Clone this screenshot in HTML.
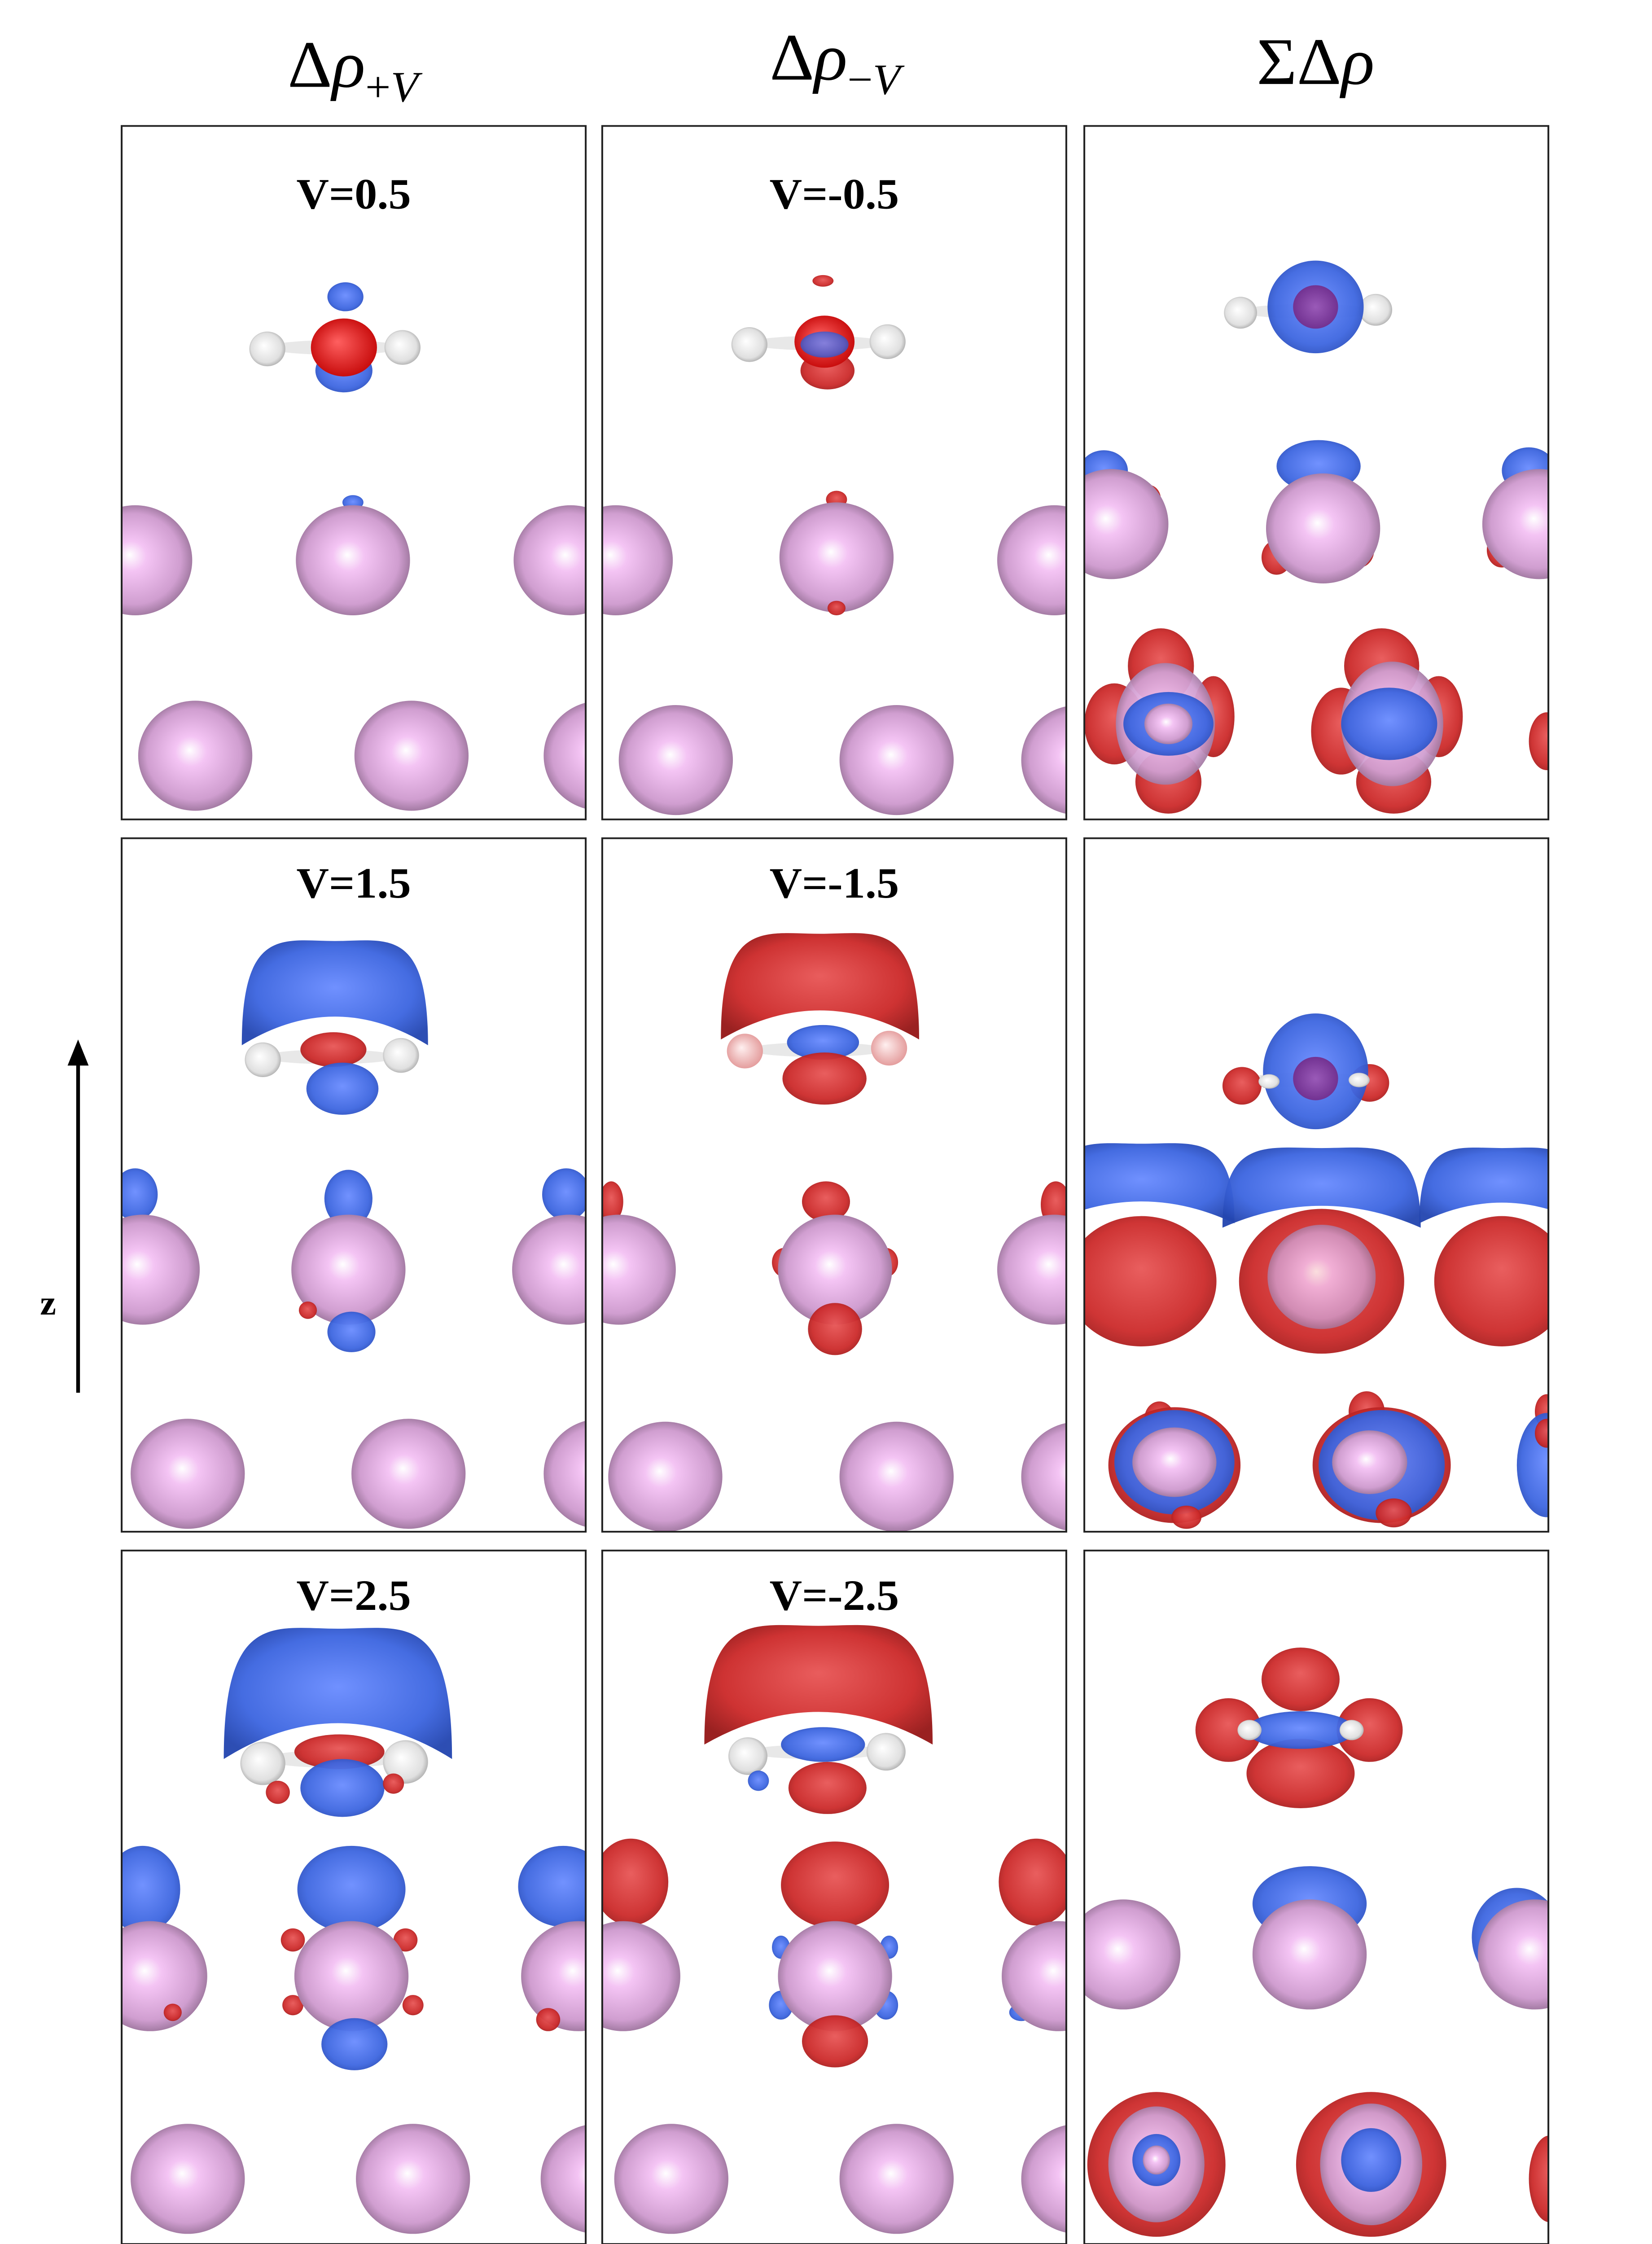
<!DOCTYPE html>
<html><head><meta charset="utf-8"><style>
html,body{margin:0;padding:0;background:#fff;width:100vw;height:100vh;overflow:hidden;}
svg{display:block;position:absolute;left:0;top:0;width:100vw;height:100vh;}
</style></head><body>
<svg id="fig" xmlns="http://www.w3.org/2000/svg" viewBox="0 0 1100 1550" preserveAspectRatio="none">
<defs>
<radialGradient id="gPink" cx="0.5" cy="0.5" r="0.55" fx="0.45" fy="0.45"><stop offset="0" stop-color="#ffffff"/><stop offset="0.25" stop-color="#f4c4f4"/><stop offset="0.75" stop-color="#d09ed0"/><stop offset="1" stop-color="#8e6a8e"/></radialGradient>
<radialGradient id="gBlue" cx="0.5" cy="0.5" r="0.6" fx="0.5" fy="0.45"><stop offset="0" stop-color="#6a8cff"/><stop offset="0.7" stop-color="#3d66e0"/><stop offset="1" stop-color="#2446b0"/></radialGradient>
<radialGradient id="gRed" cx="0.5" cy="0.5" r="0.6" fx="0.5" fy="0.4"><stop offset="0" stop-color="#e85656"/><stop offset="0.7" stop-color="#cc2a2a"/><stop offset="1" stop-color="#961818"/></radialGradient>
<radialGradient id="gO" cx="0.5" cy="0.5" r="0.6" fx="0.4" fy="0.4"><stop offset="0" stop-color="#ff6060"/><stop offset="1" stop-color="#c00000"/></radialGradient>
<radialGradient id="gH" cx="0.5" cy="0.5" r="0.6" fx="0.4" fy="0.4"><stop offset="0" stop-color="#ffffff"/><stop offset="0.7" stop-color="#e0e0e0"/><stop offset="1" stop-color="#909090"/></radialGradient>
<radialGradient id="gHr" cx="0.5" cy="0.5" r="0.6" fx="0.4" fy="0.4"><stop offset="0" stop-color="#fff0f0"/><stop offset="1" stop-color="#e09090"/></radialGradient>
<radialGradient id="gPurple" cx="0.5" cy="0.5" r="0.6"><stop offset="0" stop-color="#9a5ab8"/><stop offset="1" stop-color="#6a2a8a"/></radialGradient>
</defs>
<g font-family="'Liberation Serif', serif" fill="#000">
<text x="235" y="60" font-size="46" text-anchor="middle">Δ<tspan font-style="italic">ρ</tspan><tspan font-size="30" dy="10">+<tspan font-style="italic">V</tspan></tspan></text>
<text x="556" y="55" font-size="46" text-anchor="middle">Δ<tspan font-style="italic">ρ</tspan><tspan font-size="30" dy="10">−<tspan font-style="italic">V</tspan></tspan></text>
<text x="876" y="58" font-size="46" text-anchor="middle">ΣΔ<tspan font-style="italic">ρ</tspan></text>
<line x1="52" y1="962" x2="52" y2="732" stroke="#000" stroke-width="2.5"/>
<polygon points="52,718 45,736 59,736" fill="#000"/>
<text x="32" y="908" font-size="24" font-weight="bold" text-anchor="middle">z</text>
</g>
<g id="panels"></g>
</svg>
<script>
const NS='http://www.w3.org/2000/svg';
const colX=[81,401,722], rowY=[87,579,1071], PW=309, PH=479;
const labelDy=[57,41,41];
const labels=[['V=0.5','V=-0.5',''],['V=1.5','V=-1.5',''],['V=2.5','V=-2.5','']];
// ellipses: [type, cx, cy, rx, ry, opacity]; domes: ['DB'|'DR', cx, top, halfwidth, bottom]
const S=[
[[['B',230,205,12,10],['B',229,256,19,15],['W',223,240,45,5],['O',229,240,22,20],['H',178,241,12,12],['H',268,240,12,12],['B',235,347,7,5],
['P',90,387,38,38],['P',235,387,38,38],['P',380,387,38,38],['P',130,522,38,38],['P',274,522,38,38],['P',400,522,38,38]],
[['R',548,194,7,4],['R',551,256,18,13],['W',545,237,46,5],['O',549,236,20,18],['B',549,238,16,9,0.8],['H',499,238,12,12],['H',591,236,12,12],['R',557,345,7,6],
['P',410,387,38,38],['P',557,385,38,38],['P',702,387,38,38],['R',557,420,6,5],['P',450,525,38,38],['P',597,525,38,38],['P',718,525,38,38]],
[['W',871,215,45,5],['H',826,216,11,11],['H',916,214,11,11],['B',876,212,32,32],['U',876,212,15,15],
['B',735,325,16,14],['B',878,322,28,18],['B',1018,325,18,16],['R',765,345,8,10],['R',850,385,10,12],['R',905,380,10,12],['R',1000,380,10,12],
['P',740,362,38,38],['P',881,365,38,38],['P',1025,362,38,38],
['R',773,460,22,26],['R',778,540,22,22],['R',742,500,20,28],['R',808,495,14,28],['P',776,500,33,42,0.95],['B',778,500,30,22],['P',778,500,16,14],
['R',920,460,25,26],['R',928,540,25,22],['R',893,505,20,30],['R',958,495,16,28],['P',927,500,34,43,0.95],['B',925,500,32,25],
['R',1030,512,12,20]]],
[[['DB',223,650,62,722],['W',220,730,45,5],['R',222,725,22,12],['H',175,732,12,12],['H',267,729,12,12],['B',228,752,24,18],
['B',90,825,15,18],['B',232,828,16,20],['B',377,825,16,18],['P',95,877,38,38],['P',232,877,38,38],['P',379,877,38,38],['R',205,905,6,6],['B',234,920,16,14],
['P',125,1018,38,38],['P',272,1018,38,38],['P',400,1018,38,38]],
[['DR',546,645,66,718],['W',544,725,46,5],['B',548,720,24,12],['h',496,726,12,12],['h',592,724,12,12],['R',549,745,28,18],
['R',407,830,8,14],['R',550,830,16,14],['R',703,832,10,16],['R',522,872,8,10],['R',590,872,8,10],
['P',412,877,38,38],['P',556,877,38,38],['P',702,877,38,38],['R',556,918,18,18],
['P',443,1020,38,38],['P',597,1020,38,38],['P',718,1020,38,38]],
[['W',870,746,42,5],['R',827,750,13,13],['R',912,748,13,13],['B',876,740,35,40],['U',876,745,15,15],['H',845,747,7,5],['H',905,746,7,5],
['R',760,885,50,45],['R',880,885,55,50],['R',1000,885,45,45],['P',880,882,36,36,0.8],
['DB',760,790,62,845],['DB',880,793,66,848],['DB',1000,793,55,845],
['R',772,980,10,12],['R',910,975,12,14],['R',1030,975,8,12],
['R',782,1012,44,40],['B',782,1010,40,36],['P',782,1010,28,24],['R',790,1048,10,8],
['R',920,1012,46,40],['B',920,1012,42,38],['P',912,1010,25,22],['R',928,1045,12,10],
['B',1030,1012,20,36],['R',1030,990,8,10]]],
[[['DB',225,1125,76,1215],['W',222,1215,46,6],['R',226,1210,30,12],['H',175,1218,15,15],['H',270,1217,15,15],['B',228,1235,28,20],['R',185,1238,8,8],['R',262,1232,7,7],
['B',95,1305,25,30],['B',234,1305,36,30],['B',375,1303,30,28],['R',195,1340,8,8],['R',270,1340,8,8],['R',195,1385,7,7],['R',275,1385,7,7],
['P',100,1365,38,38],['P',234,1365,38,38],['P',385,1365,38,38],['R',115,1390,6,6],['R',365,1395,8,8],['B',236,1412,22,18],
['P',125,1505,38,38],['P',275,1505,38,38],['P',398,1505,38,38]],
[['DR',545,1123,76,1205],['W',544,1210,46,5],['B',548,1205,28,12],['H',498,1213,13,13],['H',590,1210,13,13],['R',551,1235,26,18],['B',505,1230,7,7],
['R',420,1300,25,30],['R',556,1302,36,30],['R',690,1300,25,30],['B',520,1385,8,10],['B',590,1385,8,10],['B',520,1345,6,8],['B',592,1345,6,8],['B',680,1390,8,6],
['P',415,1365,38,38],['P',556,1365,38,38],['P',705,1365,38,38],['R',556,1410,22,18],
['P',447,1505,38,38],['P',597,1505,38,38],['P',718,1505,38,38]],
[['R',866,1160,26,22],['R',818,1195,22,22],['R',912,1195,22,22],['R',866,1225,36,24],['B',866,1195,36,13],['H',832,1195,8,7],['H',900,1195,8,7],
['B',872,1315,38,26],['B',1010,1338,30,34],['B',738,1350,12,30],
['P',748,1350,38,38],['P',872,1350,38,38],['P',1022,1350,38,38],
['R',770,1495,46,50],['P',770,1495,32,40,0.95],['B',770,1492,16,18],['P',770,1492,9,10],
['R',913,1495,50,50],['P',913,1495,34,42,0.95],['B',913,1492,20,22],
['R',1032,1505,14,30]]]
];
const fillMap={P:'url(#gPink)',B:'url(#gBlue)',R:'url(#gRed)',O:'url(#gO)',H:'url(#gH)',h:'url(#gHr)',U:'url(#gPurple)',W:'#e8e8e8',DB:'url(#gBlue)',DR:'url(#gRed)'};
const nameMap={P:'metal-atom',B:'charge-depletion-blob',R:'charge-accumulation-blob',O:'oxygen-atom',H:'hydrogen-atom',h:'hydrogen-atom',U:'oxygen-atom',W:'oh-bond',DB:'charge-depletion-dome',DR:'charge-accumulation-dome'};
const root=document.getElementById('panels');
const defs=document.querySelector('defs');
for(let r=0;r<3;r++){for(let c=0;c<3;c++){
  const x0=colX[c],y0=rowY[r];
  const cp=document.createElementNS(NS,'clipPath');cp.id='cp'+r+c;
  const cr=document.createElementNS(NS,'rect');
  cr.setAttribute('x',x0);cr.setAttribute('y',y0);cr.setAttribute('width',PW);cr.setAttribute('height',PH);
  cp.appendChild(cr);defs.appendChild(cp);
  const g=document.createElementNS(NS,'g');
  
  
  const inner=document.createElementNS(NS,'g');inner.setAttribute('clip-path','url(#cp'+r+c+')');
  for(const s of S[r][c]){
    let e;
    if(s[0]==='DB'||s[0]==='DR'){
      const cx=s[1],top=s[2],w=s[3],bot=s[4],h=bot-top;
      e=document.createElementNS(NS,'path');
      e.setAttribute('d',`M${cx-w},${bot} C${cx-w},${top-h*0.15} ${cx-w*0.55},${top} ${cx},${top} C${cx+w*0.55},${top} ${cx+w},${top-h*0.15} ${cx+w},${bot} Q${cx},${bot-h*0.55} ${cx-w},${bot} Z`);
      e.setAttribute('opacity','0.96');
    } else {
      e=document.createElementNS(NS,'ellipse');
      e.setAttribute('cx',s[1]);e.setAttribute('cy',s[2]);e.setAttribute('rx',s[3]);e.setAttribute('ry',s[4]);
      let op=s[5]!==undefined?s[5]:(s[0]==='B'||s[0]==='R'?0.95:1);
      e.setAttribute('opacity',op);
    }
    e.setAttribute('fill',fillMap[s[0]]);
    
    
    inner.appendChild(e);
  }
  g.appendChild(inner);
  const fr=document.createElementNS(NS,'rect');
  fr.setAttribute('x',x0);fr.setAttribute('y',y0);fr.setAttribute('width',PW);fr.setAttribute('height',PH);
  fr.setAttribute('fill','none');fr.setAttribute('stroke','#222');fr.setAttribute('stroke-width','1.2');
  
  
  g.appendChild(fr);
  if(labels[r][c]){
    const t=document.createElementNS(NS,'text');
    t.setAttribute('x',x0+PW/2);t.setAttribute('y',y0+labelDy[r]);t.setAttribute('text-anchor','middle');
    t.setAttribute('font-family',"'Liberation Serif', serif");t.setAttribute('font-size','30');t.setAttribute('font-weight','bold');
    t.textContent=labels[r][c];
    
    
    g.appendChild(t);
  }
  root.appendChild(g);
}}
</script>
</body></html>
